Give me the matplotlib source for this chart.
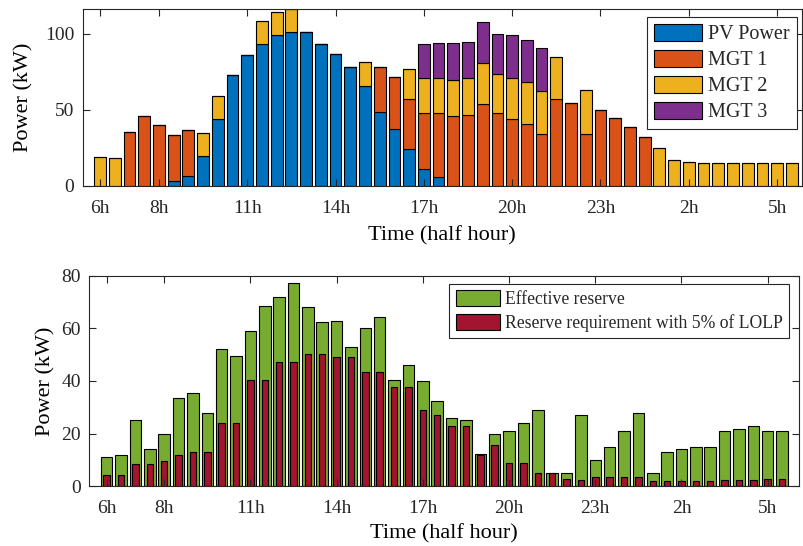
import numpy as np
import matplotlib
matplotlib.use("Agg")
import matplotlib.pyplot as plt

plt.rcParams['font.family'] = ['Liberation Serif', 'DejaVu Serif']
plt.rcParams['text.color'] = '#262626'
plt.rcParams['axes.edgecolor'] = '#262626'
plt.rcParams['xtick.color'] = '#262626'
plt.rcParams['ytick.color'] = '#262626'

# half-hour slots from 6h to 5h30 next day
tick_pos = [0, 4, 10, 16, 22, 28, 34, 40, 46]
tick_labels = ['6h', '8h', '11h', '14h', '17h', '20h', '23h', '2h', '5h']

pv = [0, 0, 0, 0, 0, 3.3, 6.6, 19.8, 44, 72.5, 85.7, 93.4, 98.9, 101, 101, 93.4,
      86.8, 77.8, 65.7, 48.4, 37.4, 24, 10.8, 5.5, 0, 0, 0, 0, 0, 0, 0, 0,
      0, 0, 0, 0, 0, 0, 0, 0, 0, 0, 0, 0, 0, 0, 0, 0]
mgt1 = [0, 0, 35, 46, 40, 30, 30, 0, 0, 0, 0, 0, 0, 0, 0, 0,
        0, 0, 0, 29.8, 34.2, 33.1, 37.1, 42, 45.7, 46.4, 53.8, 47.7, 43.7, 40.4, 33.8, 56.7,
        54.5, 33.8, 49.7, 44.8, 38.9, 31.9, 0, 0, 0, 0, 0, 0, 0, 0, 0, 0]
mgt2 = [19, 18, 0, 0, 0, 0, 0, 15, 15, 0, 0, 15, 15, 15, 0, 0,
        0, 0, 15.4, 0, 0, 19.4, 22.6, 23.3, 23.8, 24.1, 26.9, 25.9, 27.3, 27.7, 28.4, 28.1,
        0, 29.1, 0, 0, 0, 0, 25.1, 16.9, 15.8, 15, 15, 15, 15, 15, 15, 15]
mgt3 = [0, 0, 0, 0, 0, 0, 0, 0, 0, 0, 0, 0, 0, 0, 0, 0,
        0, 0, 0, 0, 0, 0, 22.9, 23.2, 24.1, 24.2, 27, 26.2, 27.9, 27.5, 28.6, 0,
        0, 0, 0, 0, 0, 0, 0, 0, 0, 0, 0, 0, 0, 0, 0, 0]

eff_reserve = [11, 12, 25.1, 14.1, 20, 33.4, 35.6, 27.7, 52, 49.6, 58.9, 68.5, 72, 77.2, 68.1, 62.5,
               62.8, 53, 60, 64.3, 40.3, 46.2, 39.9, 32.4, 25.9, 25.1, 12.2, 20, 21, 23.9, 28.9, 4.9,
               4.9, 27, 10, 15.1, 20.9, 28, 4.9, 12.9, 14.1, 15.1, 15.1, 20.9, 21.9, 23, 20.9, 20.9]
req_reserve = [4.3, 4.3, 8.4, 8.4, 9.7, 11.8, 13, 13, 23.9, 23.9, 40.3, 40.3, 47.3, 47.3, 50.1, 50.1,
               48.9, 48.9, 43.5, 43.5, 37.6, 37.6, 28.9, 27, 22.8, 22.8, 11.9, 15.6, 8.7, 8.7, 4.9, 4.9,
               2.7, 2.5, 3.4, 3.4, 3.5, 3.5, 2, 2, 2, 2.2, 2.2, 2.4, 2.4, 2.4, 2.7, 2.7]

x = np.arange(len(pv))

fig = plt.figure(figsize=(8.04, 5.46), dpi=100)
ax1 = fig.add_axes([0.1029, 0.6599, 0.8946, 0.3231])
ax2 = fig.add_axes([0.1107, 0.1093, 0.8835, 0.3861])

# stacked generation
b1 = np.array(pv)
b2 = b1 + np.array(mgt1)
b3 = b2 + np.array(mgt2)
kw = dict(width=0.8, edgecolor='k', linewidth=0.8)
ax1.bar(x, pv, color='#0072BD', label='PV Power', **kw)
ax1.bar(x, mgt1, bottom=b1, color='#D95319', label='MGT 1', **kw)
ax1.bar(x, mgt2, bottom=b2, color='#EDB120', label='MGT 2', **kw)
ax1.bar(x, mgt3, bottom=b3, color='#7E2F8E', label='MGT 3', **kw)
ax1.set_xlim(-1.175, 47.69)
ax1.set_ylim(0, 116)
ax1.set_yticks([0, 50, 100])
ax1.legend(loc='upper right', bbox_to_anchor=(0.993, 0.956), borderaxespad=0,
           fontsize=14.5, fancybox=False, edgecolor='#262626', framealpha=1,
           handlelength=2.4, handleheight=0.9, labelspacing=0.28, borderpad=0.35,
           handletextpad=0.3).get_frame().set_linewidth(0.8)

# reserve
ax2.bar(x, eff_reserve, width=0.8, color='#77AC30', edgecolor='k', linewidth=0.8,
        label='Effective reserve')
ax2.bar(x, req_reserve, width=0.45, color='#A2142F', edgecolor='k', linewidth=0.8,
        label='Reserve requirement with 5% of LOLP')
ax2.set_xlim(-1.23, 48.2)
ax2.set_ylim(0, 80)
ax2.set_yticks([0, 20, 40, 60, 80])
ax2.legend(loc='upper right', bbox_to_anchor=(0.9855, 0.96), borderaxespad=0,
           fontsize=12.7, fancybox=False, edgecolor='#262626', framealpha=1,
           handlelength=2.5, handleheight=1.0, labelspacing=0.35, borderpad=0.35,
           handletextpad=0.3).get_frame().set_linewidth(0.8)

for ax in (ax1, ax2):
    ax.set_xticks(tick_pos)
    ax.set_xticklabels(tick_labels)
    ax.tick_params(direction='in', length=5, width=0.8, labelsize=14, top=True, right=True)
    ax.tick_params(axis='x', pad=10)
    ax.tick_params(axis='y', pad=6)
    ax.set_ylabel('Power (kW)', fontsize=16, labelpad=4)
    for s in ax.spines.values():
        s.set_linewidth(0.8)

ax1.set_xlabel('Time (half hour)', fontsize=16, labelpad=7)
ax2.set_xlabel('Time (half hour)', fontsize=16, labelpad=5)
ax1.yaxis.set_label_coords(-0.069, 0.5)

plt.savefig('out.png', dpi=100)
